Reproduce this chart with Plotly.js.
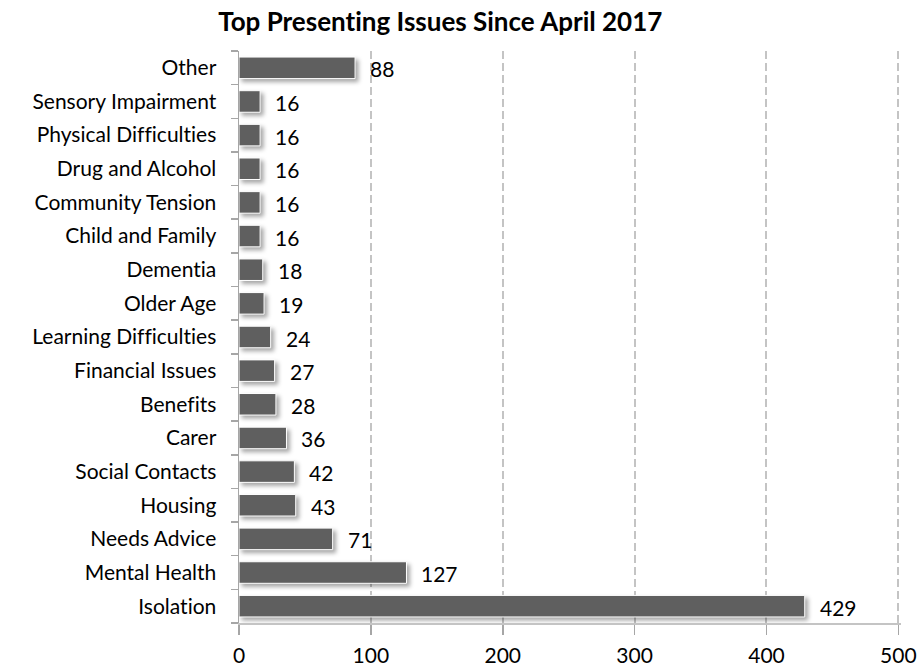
<!DOCTYPE html>
<html>
<head>
<meta charset="utf-8">
<script src="https://cdn.plot.ly/plotly-3.0.1.min.js"></script>
<style>
html,body{margin:0;padding:0;background:#fff;}
#chart{width:923px;height:667px;}
#chart text{font-variant-ligatures:none !important;font-feature-settings:"liga" 0,"clig" 0 !important;}
#chart .bars .point path{filter:drop-shadow(3px 3px 2px rgba(0,0,0,0.35));}
</style>
</head>
<body>
<div id="chart"></div>
<script>
const categories = ["Isolation","Mental Health","Needs Advice","Housing","Social Contacts","Carer","Benefits","Financial Issues","Learning Difficulties","Older Age","Dementia","Child and Family","Community Tension","Drug and Alcohol","Physical Difficulties","Sensory Impairment","Other"];
const values = [429,127,71,43,42,36,28,27,24,19,18,16,16,16,16,16,88];
const xTicks = [0,100,200,300,400,500];

const FONT = "Lato, 'Open Sans', sans-serif";

const trace = {
  type: "bar",
  orientation: "h",
  y: categories,
  x: values,
  marker: {color: "#5f5f5f", line: {color: "#ffffff", width: 1}},
  width: 0.64,
  hoverinfo: "x+y"
};

const annotations = categories.map((c, i) => ({
  x: values[i], y: c, xref: "x", yref: "y",
  text: String(values[i]), showarrow: false,
  xanchor: "left", yanchor: "middle", xshift: 13, yshift: -1,
  font: {family: FONT, size: 21, color: "#000"}
}));

const layout = {
  width: 923, height: 667,
  margin: {l: 239, r: 22, t: 51, b: 44},
  paper_bgcolor: "#fff", plot_bgcolor: "#fff",
  title: {text: "<b>Top Presenting Issues Since April 2017</b>", x: 0.477, xanchor: "center", y: 0.967, yanchor: "middle",
          font: {family: FONT, size: 26, color: "#000"}},
  xaxis: {
    range: [0, 502], tickvals: xTicks, ticktext: xTicks.map(String),
    showgrid: true, gridcolor: "#c4c4c4", griddash: "8px,4px", gridwidth: 2,
    showline: true, linecolor: "#c4c4c4", linewidth: 1.5,
    ticks: "outside", ticklen: 10, tickcolor: "#a6a6a6", tickwidth: 1.5,
    ticklabelstandoff: 3,
    tickfont: {family: FONT, size: 21, color: "#000"},
    zeroline: false, fixedrange: true
  },
  yaxis: {
    type: "category", categoryorder: "array", categoryarray: categories,
    showline: true, linecolor: "#a6a6a6", linewidth: 1.5,
    ticks: "outside", ticklen: 7, tickcolor: "#a6a6a6", tickwidth: 1.5,
    tickson: "boundaries", ticklabelstandoff: 17,
    tickfont: {family: FONT, size: 21, color: "#000"},
    showgrid: false, fixedrange: true
  },
  annotations: annotations,
  showlegend: false
};

Plotly.newPlot("chart", [trace], layout, {displayModeBar: false, staticPlot: true});
</script>
</body>
</html>
